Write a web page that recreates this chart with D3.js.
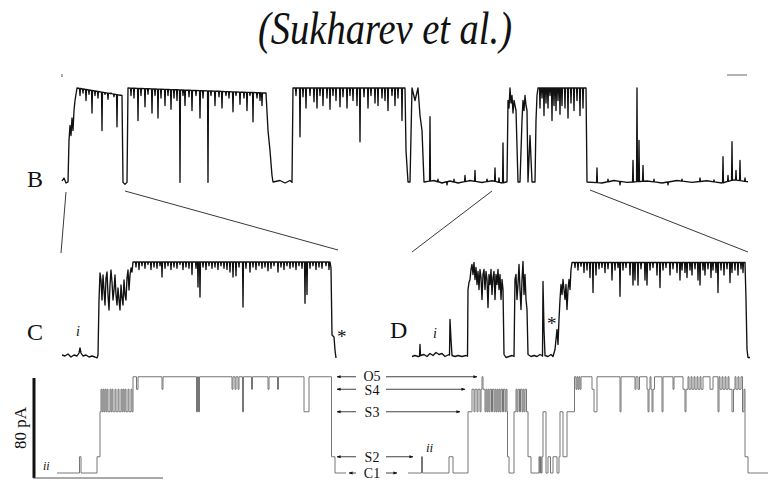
<!DOCTYPE html>
<html>
<head>
<meta charset="utf-8">
<script src="https://cdn.jsdelivr.net/npm/d3@7"></script>
<style>
  body { margin: 0; background: #fff; }
  svg { display: block; }
  text { font-family: "Liberation Serif", "Times New Roman", serif; fill: #111; }
</style>
</head>
<body>
<div id="chart"></div>
<script>
// Conductance levels of the idealized record (pA)
var levelNames = ['C1', 'S2', 'S3', 'S4', 'O5'];
var levelValues = [0, 13, 49, 67, 77];
var scaleBarPA = 80;

// Panel B: raw record, [time, pA] vertices and brief flickers from the current level
var traceB = [[0,1.6],[2,4],[4,0],[6,0.8],[7,34],[8,46],[9,38],[10,52],[11,42],[12,58],[13,66],[15,76],
  [60,70],[61,0.5],[63,-1],[65,0.5],[66,76],[204,72],[206,42],[208,26],[210,6],[211,0.8],[218,2],[223,0],
  [228,2],[230,0.5],[231,76],[343,76],[344,26],[346,0.8],[348,0.8],[350,76],[353,66],[356,76],[358,54],
  [360,42],[362,0.8],[372,2],[380,0],[388,1.6],[396,0],[408,2],[420,0.4],[430,1.8],[440,0],[445,1],
  [446,66],[447,60],[448,76],[449,64],[450,70],[451,56],[452,66],[453,62],[454,58],[456,0.8],[458,0.8],
  [460,50],[461,66],[462,58],[463,70],[464,62],[465,58],[466,0.8],[468,38],[470,0.8],[473,0.8],[474,50],
  [475,70],[476,76],[524,76],[525,0.8],[540,0],[552,2],[565,0.5],[585,1.6],[600,0],[615,2],[630,0.5],
  [645,1.8],[660,0],[672,2.5],[686,1]];
var flickB = [[18,70],[21,72],[24,66],[27,71],[30,56],[33,70],[36,68],[40,42],[43,71],[46,67],[49,72],
  [52,69],[55,45],[58,70],[69,70],[72,68],[76,50],[79,70],[83,61],[86,71],[90,56],[93,70],[96,52],[99,68],
  [103,62],[106,70],[109,59],[112,68],[115,66],[118,0.5],[121,70],[123,62],[127,69],[130,58],[134,70],
  [138,52],[141,68],[146,0.5],[149,70],[153,62],[157,69],[160,60],[164,70],[167,68],[171,57],[174,70],
  [178,63],[182,68],[185,58],[188,70],[191,49],[195,68],[198,66],[200,62],[234,70],[238,37],[241,69],
  [244,60],[248,70],[252,65],[255,60],[258,70],[261,62],[265,68],[268,59],[271,70],[274,66],[278,61],
  [281,69],[285,60],[288,70],[291,66],[295,62],[298,33],[302,69],[306,60],[309,70],[313,64],[316,62],
  [320,68],[323,66],[326,58],[330,70],[333,62],[336,68],[340,50],[368,53],[376,3],[385,-1.5],[392,3],
  [403,6],[413,10],[425,3],[433,12],[437,4],[441,32],[478,60],[480,68],[482,54],[484,64],[486,60],
  [488,70],[490,50],[492,62],[494,58],[496,66],[498,55],[500,62],[503,60],[506,52],[509,64],[512,58],
  [515,66],[518,54],[521,60],[535,12],[546,3],[558,-1.5],[571,18],[575,76],[577,34],[581,14],[592,3],
  [606,-1.5],[620,3],[638,4],[652,2.5],[661,21],[666,6],[670,33],[674,10],[678,18],[683,4]];

// Panel C: raw record, expanded
var traceC = [[0,1.6],[3,0.8],[6,2.4],[9,0],[12,1.6],[15,0.8],[17,3.2],[18,7.2],[19,3.2],[21,0.8],[24,1.6],
  [27,0],[30,0.8],[33,0],[35,-0.8],[36,1.6],[37,45.6],[38,67.2],[39,61.6],[40,45.6],[41,65.6],[42,53.6],
  [43,41.6],[44,63.2],[45,68],[46,49.6],[47,37.6],[48,57.6],[49,69.6],[50,60],[51,45.6],[52,53.6],
  [53,65.6],[54,49.6],[55,41.6],[56,55.2],[57,45.6],[58,37.6],[59,57.6],[60,47.2],[61,41.6],[62,61.6],
  [63,49.6],[64,45.6],[65,63.2],[66,69.6],[67,53.6],[68,65.6],[69,71.2],[70,68],[71,76],[268,76],
  [269,71.2],[270,17.6],[272,16],[273,5.6],[274,-0.8]];
var flickC = [[74,72],[77,70],[80,73],[83,71],[86,74],[89,70],[92,72],[95,71],[98,73],[100,64],[103,71],
  [106,73],[109,70],[112,72],[115,71],[118,74],[121,70],[124,72],[127,71],[130,66],[134,71],[136,56],
  [138,48],[141,72],[144,70],[147,73],[150,71],[153,72],[156,70],[159,73],[162,71],[165,70],[168,68],
  [171,64],[174,65],[177,72],[181,40],[184,71],[188,68],[191,72],[194,70],[197,73],[200,71],[203,72],
  [206,69],[209,71],[212,73],[216,68],[219,72],[222,70],[225,73],[228,71],[231,72],[234,70],[237,73],
  [240,71],[243,43],[245,50],[248,71],[251,73],[254,70],[257,72],[260,71],[264,73],[267,70]];

// Panel D: raw record, expanded
var traceD = [[0,0.8],[3,1.6],[6,0.8],[7.5,1],[8,10.4],[8.5,1.6],[12,2.4],[15,0.8],[18,3.2],[21,1.6],
  [24,4],[27,2.4],[30,3.2],[33,0.8],[37,2.4],[37.5,2],[38,30.4],[39,14.4],[40,1.6],[43,0.8],[46,1.6],
  [50,0.8],[54,1.6],[55.5,1],[56,54.4],[57,60],[58,62.4],[59,70.4],[60,74.4],[61,66.4],[62,76],[63,62.4],
  [64,72],[65,58.4],[66,68.8],[67,54.4],[68,70.4],[69,64],[70,46.4],[71,66.4],[72,70.4],[73,54.4],
  [74,68.8],[75,62.4],[76,40],[77,66.4],[78,58.4],[79,70.4],[80,50.4],[81,64],[82,68.8],[83,46.4],
  [84,66.4],[85,58.4],[86,70.4],[87,54.4],[88,66.4],[89,46.4],[90,62.4],[91,54.4],[92,2.4],[94,0],
  [97,0.8],[100,1.6],[102,0.8],[103,62.4],[104,66.4],[105,46.4],[106,58.4],[107,74.4],[108,54.4],
  [109,38.4],[110,62.4],[111,76.8],[112,50.4],[113,66.4],[114,46.4],[115,38.4],[116,2.4],[119,0.8],
  [122,1.6],[125,0.8],[128,2.4],[130,1.6],[130.5,1],[131,60.8],[132,22.4],[133,1.6],[136,0.8],[139,2.4],
  [141,0.8],[143,6.4],[144,14.4],[145,22.4],[146,10.4],[147,30.4],[148,46.4],[149,58.4],[150,50.4],
  [151,62.4],[152,54.4],[153,46.4],[154,58.4],[155,38.4],[156,54.4],[157,62.4],[158,54.4],[159,70.4],
  [160,76],[333,76],[334,46.4],[335,6.4],[336,0],[338,0]];
var flickD = [[163,72],[166,70],[169,73],[172,68],[175,70],[178,64],[181,52],[184,66],[187,71],[190,72],
  [193,68],[196,71],[200,62],[203,70],[206,72],[208,49],[211,70],[214,72],[218,66],[221,58],[223,62],
  [226,58],[229,71],[233,62],[235,58],[238,70],[241,72],[245,66],[248,56],[251,70],[254,72],[258,66],
  [261,71],[265,68],[268,62],[270,70],[273,68],[275,64],[278,70],[280,66],[283,71],[286,62],[288,58],
  [291,70],[293,66],[296,71],[299,64],[301,70],[304,68],[306,52],[309,70],[312,66],[315,71],[318,60],
  [320,68],[323,70],[326,66],[329,71],[331,68]];

// Idealized records, [time, level] steps (time axes of C and D)
var idealC = [[-5,'C1'],[17.5,'S2'],[19,'C1'],[35,'S2'],[38,'S3'],[39,'S4'],[40,'S3'],[41,'S4'],[42,'S3'],
  [43,'S4'],[44,'S3'],[45,'S4'],[46,'S3'],[48,'S4'],[49,'S3'],[50,'S4'],[51,'S3'],[53,'S4'],[54,'S3'],
  [56,'S4'],[57,'S3'],[59,'S4'],[60,'S3'],[61,'S4'],[62,'S3'],[63,'S4'],[64,'S3'],[66,'S4'],[67,'S3'],
  [69,'S4'],[70,'S3'],[71,'O5'],[74.5,'S4'],[76,'O5'],[100,'S4'],[101,'O5'],[134.5,'S3'],[135.5,'O5'],
  [136.5,'S3'],[137.5,'O5'],[170,'S4'],[171,'O5'],[173,'S4'],[174,'O5'],[176,'S4'],[177,'O5'],
  [180.5,'S3'],[181.5,'O5'],[189.5,'S4'],[190.5,'O5'],[206,'S4'],[207,'O5'],[215.5,'S4'],[216.5,'O5'],
  [242,'S3'],[247,'O5'],[269.5,'S2'],[273,'C1'],[284,'C1']];
var idealD = [[-4,'C1'],[9.5,'S2'],[10.5,'C1'],[37,'S2'],[41,'C1'],[56,'S3'],[60,'S4'],[62,'S3'],[63,'S4'],
  [65,'S3'],[66,'S4'],[68,'S3'],[69,'S4'],[70,'O5'],[71,'S4'],[73,'S3'],[74,'S4'],[75,'S3'],[76,'S4'],
  [77,'S3'],[78,'S4'],[79.5,'S3'],[80.5,'S4'],[82,'S3'],[83,'S4'],[84,'S3'],[85,'S4'],[86,'S3'],[87,'S4'],
  [88,'S3'],[89,'S4'],[90.5,'S3'],[91.5,'S4'],[93,'S3'],[94,'S4'],[95,'S3'],[95.5,'S2'],[97,'C1'],
  [102,'S3'],[104,'S4'],[105,'S3'],[106,'S4'],[107.5,'S3'],[108.5,'S4'],[110,'S3'],[111,'S4'],[112,'S3'],
  [113,'S4'],[114.5,'S3'],[116,'S2'],[119,'C1'],[127,'S2'],[127.7,'C1'],[128.5,'S2'],[129.2,'C1'],
  [130,'S2'],[131,'S3'],[134,'C1'],[136,'S2'],[138.5,'C1'],[141,'S2'],[145,'C1'],[147,'S2'],[148,'S3'],
  [151,'S2'],[155,'S3'],[162.5,'O5'],[164,'S4'],[165,'O5'],[166,'S4'],[167,'O5'],[168,'S4'],[169,'O5'],
  [180,'S4'],[182,'S3'],[185,'O5'],[208,'S3'],[209,'O5'],[223,'S4'],[224,'O5'],[226,'S4'],[227.5,'O5'],
  [235,'S4'],[236,'S3'],[237,'S4'],[238,'O5'],[239,'S4'],[240,'S3'],[241,'S4'],[242.5,'O5'],[250,'S3'],
  [251,'O5'],[261,'S4'],[262,'O5'],[271,'S4'],[273,'S3'],[274,'S4'],[276,'O5'],[277,'S4'],[279,'O5'],
  [280,'S4'],[282,'O5'],[283,'S4'],[285,'O5'],[286,'S4'],[288,'O5'],[289,'S4'],[291,'O5'],[298,'S4'],
  [301,'O5'],[306,'S3'],[307,'O5'],[308,'S4'],[310,'O5'],[311,'S4'],[313,'O5'],[314,'S4'],[316,'O5'],
  [317,'S4'],[320,'S3'],[321.5,'S4'],[323,'O5'],[324,'S4'],[326,'O5'],[327,'S4'],[329,'O5'],[330.5,'S3'],
  [332,'S4'],[333,'S2'],[336,'C1'],[356,'C1']];

// where the right-hand level arrows stop, in D time
var arrowEndsD = [-15, 1, 48, 53, 65];

var width = 770, height = 481;
var pxPerPA = 1.25;

var svg = d3.select('#chart').append('svg')
  .attr('width', width)
  .attr('height', height);

svg.append('rect').attr('width', width).attr('height', height).attr('fill', '#fff');

var defs = svg.append('defs');
defs.append('marker')
  .attr('id', 'head')
  .attr('viewBox', '0 0 10 10')
  .attr('refX', 9).attr('refY', 5)
  .attr('markerWidth', 5).attr('markerHeight', 5)
  .attr('orient', 'auto-start-reverse')
  .append('path')
  .attr('d', 'M0,1L10,5L0,9Z')
  .attr('fill', '#111');

function yFor(base) {
  return d3.scaleLinear().domain([0, scaleBarPA]).range([base, base - scaleBarPA * pxPerPA]);
}

var xB = d3.scaleLinear().domain([0, 686]).range([62, 748]);
var xC = d3.scaleLinear().domain([0, 273]).range([62, 335]);
var xD = d3.scaleLinear().domain([0, 338]).range([412, 750]);
var yB = yFor(183);
var yC = yFor(357);
var yD = yFor(357.5);
var yIdeal = yFor(473);
var levelOf = d3.scaleOrdinal().domain(levelNames).range(levelValues);

// merge brief flickers into the main vertex list
function withFlickers(main, flicks) {
  var bisect = d3.bisector(function(d) { return d[0]; }).left;
  var pts = main.slice();
  flicks.forEach(function(f) {
    var i = bisect(main, f[0]);
    var a = main[Math.max(i - 1, 0)];
    var b = main[Math.min(i, main.length - 1)];
    var span = (b[0] - a[0]) || 1;
    var base = a[1] + (b[1] - a[1]) * (f[0] - a[0]) / span;
    pts.push([f[0] - 0.45, base], [f[0], f[1]], [f[0] + 0.45, base]);
  });
  return pts.sort(function(p, q) { return p[0] - q[0]; });
}

function drawRaw(points, x, y) {
  var line = d3.line()
    .x(function(d) { return x(d[0]); })
    .y(function(d) { return y(d[1]); });
  svg.append('path')
    .attr('d', line(points))
    .attr('fill', 'none')
    .attr('stroke', '#111')
    .attr('stroke-width', 1.35)
    .attr('stroke-linejoin', 'round');
}

function drawIdeal(steps, x) {
  var line = d3.line()
    .curve(d3.curveStepAfter)
    .x(function(d) { return x(d[0]); })
    .y(function(d) { return yIdeal(levelOf(d[1])); });
  svg.append('path')
    .attr('d', line(steps))
    .attr('fill', 'none')
    .attr('stroke', '#767676')
    .attr('stroke-width', 1);
}

drawRaw(withFlickers(traceB, flickB), xB, yB);
drawRaw(withFlickers(traceC, flickC), xC, yC);
drawRaw(withFlickers(traceD, flickD), xD, yD);
drawIdeal(idealC, xC);
drawIdeal(idealD, xD);

// expansion lines from B to C and D
var connectors = [
  [xB(4), yB(0) + 9, xC(-1), 253],
  [xB(63), yB(0) + 8, xC(276), 250],
  [xB(430), yB(0) + 8, xD(0), 252],
  [xB(528), yB(0) + 7, xD(336), 252]
];
svg.selectAll('.connector')
  .data(connectors)
  .enter().append('line')
  .attr('class', 'connector')
  .attr('x1', function(d) { return d[0]; })
  .attr('y1', function(d) { return d[1]; })
  .attr('x2', function(d) { return d[2]; })
  .attr('y2', function(d) { return d[3]; })
  .attr('stroke', '#222')
  .attr('stroke-width', 0.9);

// small marks at the top corners of B
svg.append('line').attr('x1', 62).attr('x2', 62).attr('y1', 74).attr('y2', 77)
  .attr('stroke', '#555').attr('stroke-width', 1);
svg.append('line').attr('x1', 727).attr('x2', 747).attr('y1', 75).attr('y2', 75)
  .attr('stroke', '#666').attr('stroke-width', 1);

// title
svg.append('text')
  .attr('x', 258).attr('y', 44)
  .attr('textLength', 254)
  .attr('lengthAdjust', 'spacingAndGlyphs')
  .style('font-size', '46px')
  .style('font-style', 'italic')
  .text('(Sukharev et al.)');

// panel letters
var panelLabels = [['B', 27, 187], ['C', 27, 340], ['D', 390, 338]];
svg.selectAll('.panel-label')
  .data(panelLabels)
  .enter().append('text')
  .attr('class', 'panel-label')
  .attr('x', function(d) { return d[1]; })
  .attr('y', function(d) { return d[2]; })
  .style('font-size', '24px')
  .text(function(d) { return d[0]; });

function note(txt, x, y, size, italic) {
  svg.append('text')
    .attr('x', x).attr('y', y)
    .style('font-size', size + 'px')
    .style('font-style', italic ? 'italic' : 'normal')
    .text(txt);
}
note('i', 76, 336, 14, true);
note('i', 433, 338, 14, true);
note('*', 337, 343, 19, false);
note('*', 547, 330, 19, false);
note('ii', 43, 470, 12, true);
note('ii', 426, 452, 13, true);

// scale bar: 80 pA
svg.append('line')
  .attr('x1', 34).attr('x2', 34)
  .attr('y1', yIdeal(0) + 5).attr('y2', yIdeal(scaleBarPA) + 5)
  .attr('stroke', '#111').attr('stroke-width', 3);
svg.append('line')
  .attr('x1', 33).attr('x2', 163)
  .attr('y1', yIdeal(0) + 5).attr('y2', yIdeal(0) + 5)
  .attr('stroke', '#555').attr('stroke-width', 1);
svg.append('text')
  .attr('transform', 'translate(26,' + (yIdeal(scaleBarPA / 2) + 5) + ') rotate(-90)')
  .attr('text-anchor', 'middle')
  .style('font-size', '17px')
  .text(scaleBarPA + ' pA');

// level labels with arrows pointing to both records
var labelX = 372;
var labelNudge = { O5: -1, S4: 1 };
var levels = levelNames.map(function(n, i) {
  return { name: n, y: yIdeal(levelValues[i]), end: xD(arrowEndsD[i]) };
});

svg.selectAll('.level-label')
  .data(levels)
  .enter().append('text')
  .attr('class', 'level-label')
  .attr('x', labelX)
  .attr('y', function(d) { return d.y + (labelNudge[d.name] || 0); })
  .attr('dy', '0.35em')
  .attr('text-anchor', 'middle')
  .style('font-size', '14px')
  .text(function(d) { return d.name; });

svg.selectAll('.arrow-left')
  .data(levels)
  .enter().append('line')
  .attr('class', 'arrow-left')
  .attr('x1', 356)
  .attr('x2', function(d) { return d.name === 'C1' ? 349 : 337; })
  .attr('y1', function(d) { return d.y; })
  .attr('y2', function(d) { return d.y; })
  .attr('stroke', '#111').attr('stroke-width', 0.8)
  .attr('marker-end', 'url(#head)');

svg.selectAll('.arrow-right')
  .data(levels)
  .enter().append('line')
  .attr('class', 'arrow-right')
  .attr('x1', 386)
  .attr('x2', function(d) { return d.end; })
  .attr('y1', function(d) { return d.y; })
  .attr('y2', function(d) { return d.y; })
  .attr('stroke', '#111').attr('stroke-width', 0.8)
  .attr('marker-end', 'url(#head)');
</script>
</body>
</html>
